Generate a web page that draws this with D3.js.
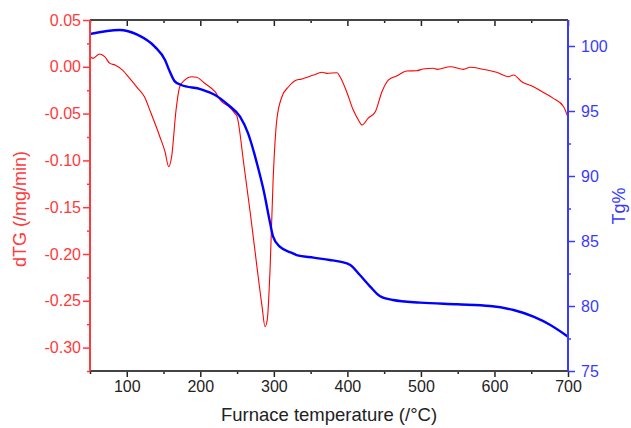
<!DOCTYPE html>
<html>
<head>
<meta charset="utf-8">
<script src="https://cdn.jsdelivr.net/npm/d3@7"></script>
<style>
  body { margin: 0; background: #fff; }
  svg text { font-family: Arial, "Liberation Sans", sans-serif; }
</style>
</head>
<body>
<div id="chart"></div>
<script>
// Tg% curve (blue, right axis)
var tgTemp = [50, 90, 115, 138, 152, 158, 165, 174, 201, 220, 238, 254, 265, 268, 277, 286, 295, 299, 308, 326, 331, 354, 376, 390, 404, 417, 431, 444, 462, 499, 549, 594, 626, 653, 676, 700];
var tgVal  = [100.92, 101.23, 100.85, 99.95, 98.92, 98.1, 97.3, 97.0, 96.67, 96.23, 95.46, 94.56, 93.28, 92.77, 90.97, 88.92, 86.36, 85.33, 84.56, 84.05, 83.92, 83.72, 83.54, 83.41, 83.15, 82.38, 81.49, 80.77, 80.46, 80.26, 80.13, 80.0, 79.69, 79.18, 78.54, 77.64];

// dTG curve (red, left axis)
var dtgTemp = [50, 54, 63, 70, 77, 84, 95, 102, 115, 124, 133, 145, 152, 157, 161, 167, 172, 179, 188, 195, 206, 220, 229, 238, 247, 250, 259, 268, 277, 284, 288, 291, 295, 299, 304, 311, 320, 331, 336, 354, 365, 372, 386, 390, 399, 408, 415, 420, 428, 438, 447, 456, 467, 481, 494, 503, 517, 522, 540, 558, 567, 585, 603, 619, 626, 637, 653, 666, 680, 694, 700];
var dtgVal  = [0.011, 0.009, 0.0137, 0.0108, 0.0037, 0.0019, -0.0042, -0.0106, -0.023, -0.032, -0.0497, -0.0747, -0.0907, -0.1067, -0.096, -0.0462, -0.0213, -0.014, -0.0106, -0.0112, -0.0176, -0.0266, -0.0373, -0.0419, -0.0497, -0.0533, -0.103, -0.1565, -0.2135, -0.2563, -0.2777, -0.2705, -0.2135, -0.121, -0.0568, -0.032, -0.0213, -0.014, -0.0134, -0.0088, -0.0059, -0.007, -0.0063, -0.0106, -0.0266, -0.0462, -0.0568, -0.0622, -0.055, -0.048, -0.0266, -0.014, -0.0098, -0.0045, -0.0042, -0.0024, -0.0016, -0.0027, 0.0001, -0.0027, -0.0005, -0.0027, -0.0059, -0.0106, -0.0088, -0.0159, -0.0213, -0.0272, -0.0337, -0.0426, -0.054];

var xTicks = [100, 200, 300, 400, 500, 600, 700];
var xMinor = [50, 150, 250, 350, 450, 550, 650];
var leftTicks = [0.05, 0.00, -0.05, -0.10, -0.15, -0.20, -0.25, -0.30];
var leftMinor = [0.025, -0.025, -0.075, -0.125, -0.175, -0.225, -0.275, -0.325];
var rightTicks = [75, 80, 85, 90, 95, 100];
var rightMinor = [77.5, 82.5, 87.5, 92.5, 97.5];

var W = 631, H = 428;
var m = {left: 90, top: 20, right: 63, bottom: 57};
var w = W - m.left - m.right;
var h = H - m.top - m.bottom;

var red = '#ff0000', blue = '#0000ff';
var redAxis = '#ff3a3a', blueAxis = '#3a3aff';

var svg = d3.select('#chart').append('svg')
  .attr('width', W).attr('height', H);

var g = svg.append('g').attr('transform', 'translate(' + m.left + ',' + m.top + ')');

var x = d3.scaleLinear().domain([50, 700]).range([0, w]);
var yL = d3.scaleLinear().domain([-0.325, 0.05]).range([h, 0]);
var yR = d3.scaleLinear().domain([75, 102]).range([h, 0]);

function styleAxis(sel, color, size) {
  sel.select('.domain').remove();
  sel.selectAll('line').attr('stroke', color).attr('stroke-width', 1.5);
  sel.selectAll('text').attr('fill', color).style('font-size', size + 'px');
}

// clip for the curves
svg.append('clipPath').attr('id', 'clip').append('rect')
  .attr('width', w).attr('height', h);

// curves
var tgData = tgTemp.map(function(t, i) { return {t: t, v: tgVal[i]}; });
var dtgData = dtgTemp.map(function(t, i) { return {t: t, v: dtgVal[i]}; });

g.append('path')
  .datum(dtgData)
  .attr('clip-path', 'url(#clip)')
  .attr('fill', 'none')
  .attr('stroke', red)
  .attr('stroke-width', 1.1)
  .attr('d', d3.line().x(function(d) { return x(d.t); }).y(function(d) { return yL(d.v); }).curve(d3.curveMonotoneX));

g.append('path')
  .datum(tgData)
  .attr('clip-path', 'url(#clip)')
  .attr('fill', 'none')
  .attr('stroke', blue)
  .attr('stroke-width', 2.4)
  .attr('d', d3.line().x(function(d) { return x(d.t); }).y(function(d) { return yR(d.v); }).curve(d3.curveMonotoneX));

// bottom axis
var bx = g.append('g').attr('transform', 'translate(0,' + h + ')')
  .call(d3.axisBottom(x).tickValues(xTicks).tickFormat(d3.format('d')).tickSize(6).tickPadding(4));
styleAxis(bx, '#222', 16);
g.append('g').attr('transform', 'translate(0,' + h + ')')
  .call(d3.axisBottom(x).tickValues(xMinor).tickFormat('').tickSize(3))
  .call(function(s) { styleAxis(s, '#222', 16); });

// top axis (ticks inward)
g.append('g')
  .call(d3.axisTop(x).tickValues(xTicks).tickFormat('').tickSize(-6))
  .call(function(s) { styleAxis(s, '#222', 16); });
g.append('g')
  .call(d3.axisTop(x).tickValues(xMinor).tickFormat('').tickSize(-3))
  .call(function(s) { styleAxis(s, '#222', 16); });

g.append('line').attr('x1', 0).attr('x2', w).attr('y1', h).attr('y2', h)
  .attr('stroke', '#444').attr('stroke-width', 1.8);
g.append('line').attr('x1', 0).attr('x2', w).attr('y1', 0).attr('y2', 0)
  .attr('stroke', '#444').attr('stroke-width', 1.8);

// left axis
var la = g.append('g')
  .call(d3.axisLeft(yL).tickValues(leftTicks).tickFormat(d3.format('.2f')).tickSize(7).tickPadding(2));
styleAxis(la, redAxis, 16);
la.selectAll('text').text(function(d) { return d3.format('.2f')(d).replace('−', '-'); });
g.append('g')
  .call(d3.axisLeft(yL).tickValues(leftMinor).tickFormat('').tickSize(3))
  .call(function(s) { styleAxis(s, redAxis, 16); });
g.append('line').attr('x1', 0).attr('x2', 0).attr('y1', 0).attr('y2', h)
  .attr('stroke', redAxis).attr('stroke-width', 2);

// right axis
var ra = g.append('g').attr('transform', 'translate(' + w + ',0)')
  .call(d3.axisRight(yR).tickValues(rightTicks).tickSize(7).tickPadding(6));
styleAxis(ra, blueAxis, 16);
g.append('g').attr('transform', 'translate(' + w + ',0)')
  .call(d3.axisRight(yR).tickValues(rightMinor).tickFormat('').tickSize(3))
  .call(function(s) { styleAxis(s, blueAxis, 16); });
g.append('line').attr('x1', w).attr('x2', w).attr('y1', 0).attr('y2', h)
  .attr('stroke', blueAxis).attr('stroke-width', 2);

// axis titles
svg.append('text')
  .attr('x', m.left + x(375)).attr('y', 421)
  .attr('text-anchor', 'middle')
  .attr('fill', '#222')
  .style('font-size', '18.5px')
  .text('Furnace temperature (/°C)');

svg.append('text')
  .attr('transform', 'translate(26,209) rotate(-90)')
  .attr('text-anchor', 'middle')
  .attr('fill', redAxis)
  .style('font-size', '18px')
  .text('dTG (/mg/min)');

svg.append('text')
  .attr('transform', 'translate(625,206) rotate(-90)')
  .attr('text-anchor', 'middle')
  .attr('fill', blueAxis)
  .style('font-size', '18px')
  .text('Tg%');
</script>
</body>
</html>
